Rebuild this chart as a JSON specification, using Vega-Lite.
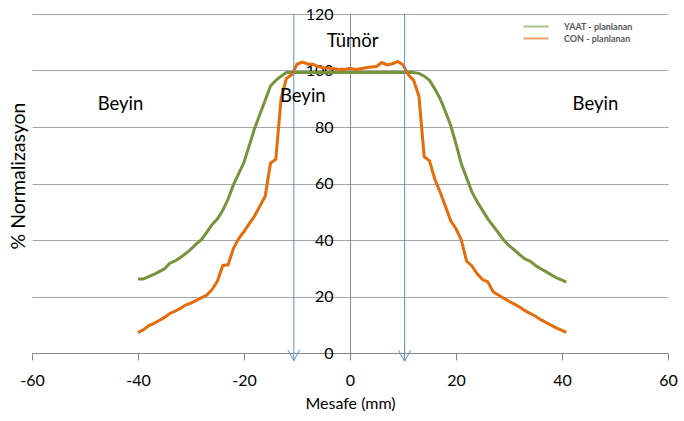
{
  "$schema": "https://vega.github.io/schema/vega-lite/v6.json",
  "width": 636,
  "height": 339,
  "autosize": "none",
  "padding": {"left": 32, "top": 14, "right": 16, "bottom": 68},
  "background": "white",
  "config": {
    "view": {"stroke": null},
    "font": "Lato",
    "axis": {"labelFont": "Lato", "titleFont": "Lato", "labelColor": "#000000", "titleColor": "#000000", "titleFontWeight": "normal"}
  },
  "datasets": {
    "curves": [
      {"x": -40, "y": 26.2, "series": "YAAT - planlanan"},
      {"x": -39, "y": 26.2, "series": "YAAT - planlanan"},
      {"x": -38, "y": 27.0, "series": "YAAT - planlanan"},
      {"x": -37, "y": 27.8, "series": "YAAT - planlanan"},
      {"x": -36, "y": 28.8, "series": "YAAT - planlanan"},
      {"x": -35, "y": 29.8, "series": "YAAT - planlanan"},
      {"x": -34, "y": 31.8, "series": "YAAT - planlanan"},
      {"x": -33, "y": 32.6, "series": "YAAT - planlanan"},
      {"x": -32, "y": 33.8, "series": "YAAT - planlanan"},
      {"x": -31, "y": 35.2, "series": "YAAT - planlanan"},
      {"x": -30, "y": 36.8, "series": "YAAT - planlanan"},
      {"x": -29, "y": 38.6, "series": "YAAT - planlanan"},
      {"x": -28, "y": 40.2, "series": "YAAT - planlanan"},
      {"x": -27, "y": 42.8, "series": "YAAT - planlanan"},
      {"x": -26, "y": 45.5, "series": "YAAT - planlanan"},
      {"x": -25, "y": 47.5, "series": "YAAT - planlanan"},
      {"x": -24, "y": 50.5, "series": "YAAT - planlanan"},
      {"x": -23, "y": 54.5, "series": "YAAT - planlanan"},
      {"x": -22, "y": 59.5, "series": "YAAT - planlanan"},
      {"x": -21, "y": 63.5, "series": "YAAT - planlanan"},
      {"x": -20, "y": 67.5, "series": "YAAT - planlanan"},
      {"x": -19, "y": 73.5, "series": "YAAT - planlanan"},
      {"x": -18, "y": 79.5, "series": "YAAT - planlanan"},
      {"x": -17, "y": 84.5, "series": "YAAT - planlanan"},
      {"x": -16, "y": 89.5, "series": "YAAT - planlanan"},
      {"x": -15, "y": 94.5, "series": "YAAT - planlanan"},
      {"x": -14, "y": 96.5, "series": "YAAT - planlanan"},
      {"x": -13, "y": 98.0, "series": "YAAT - planlanan"},
      {"x": -12, "y": 99.3, "series": "YAAT - planlanan"},
      {"x": -8, "y": 99.3, "series": "YAAT - planlanan"},
      {"x": -4, "y": 99.3, "series": "YAAT - planlanan"},
      {"x": 0, "y": 99.3, "series": "YAAT - planlanan"},
      {"x": 4, "y": 99.3, "series": "YAAT - planlanan"},
      {"x": 8, "y": 99.3, "series": "YAAT - planlanan"},
      {"x": 12, "y": 99.3, "series": "YAAT - planlanan"},
      {"x": 13, "y": 99.0, "series": "YAAT - planlanan"},
      {"x": 14, "y": 98.0, "series": "YAAT - planlanan"},
      {"x": 15, "y": 96.5, "series": "YAAT - planlanan"},
      {"x": 16, "y": 93.5, "series": "YAAT - planlanan"},
      {"x": 17, "y": 90.0, "series": "YAAT - planlanan"},
      {"x": 18, "y": 85.5, "series": "YAAT - planlanan"},
      {"x": 19, "y": 80.5, "series": "YAAT - planlanan"},
      {"x": 20, "y": 74.0, "series": "YAAT - planlanan"},
      {"x": 21, "y": 67.0, "series": "YAAT - planlanan"},
      {"x": 22, "y": 62.0, "series": "YAAT - planlanan"},
      {"x": 23, "y": 57.0, "series": "YAAT - planlanan"},
      {"x": 24, "y": 53.5, "series": "YAAT - planlanan"},
      {"x": 25, "y": 50.5, "series": "YAAT - planlanan"},
      {"x": 26, "y": 47.5, "series": "YAAT - planlanan"},
      {"x": 27, "y": 45.0, "series": "YAAT - planlanan"},
      {"x": 28, "y": 42.5, "series": "YAAT - planlanan"},
      {"x": 29, "y": 40.0, "series": "YAAT - planlanan"},
      {"x": 30, "y": 38.0, "series": "YAAT - planlanan"},
      {"x": 31, "y": 36.5, "series": "YAAT - planlanan"},
      {"x": 32, "y": 34.8, "series": "YAAT - planlanan"},
      {"x": 33, "y": 33.3, "series": "YAAT - planlanan"},
      {"x": 34, "y": 32.5, "series": "YAAT - planlanan"},
      {"x": 35, "y": 31.0, "series": "YAAT - planlanan"},
      {"x": 36, "y": 29.8, "series": "YAAT - planlanan"},
      {"x": 37, "y": 28.8, "series": "YAAT - planlanan"},
      {"x": 38, "y": 27.6, "series": "YAAT - planlanan"},
      {"x": 39, "y": 26.6, "series": "YAAT - planlanan"},
      {"x": 40, "y": 25.8, "series": "YAAT - planlanan"},
      {"x": 40.8, "y": 25.1, "series": "YAAT - planlanan"},
      {"x": -40, "y": 7.2, "series": "CON - planlanan"},
      {"x": -39, "y": 8.2, "series": "CON - planlanan"},
      {"x": -38, "y": 9.6, "series": "CON - planlanan"},
      {"x": -37, "y": 10.5, "series": "CON - planlanan"},
      {"x": -36, "y": 11.5, "series": "CON - planlanan"},
      {"x": -35, "y": 12.6, "series": "CON - planlanan"},
      {"x": -34, "y": 14.0, "series": "CON - planlanan"},
      {"x": -33, "y": 14.8, "series": "CON - planlanan"},
      {"x": -32, "y": 15.8, "series": "CON - planlanan"},
      {"x": -31, "y": 17.0, "series": "CON - planlanan"},
      {"x": -30, "y": 17.7, "series": "CON - planlanan"},
      {"x": -29, "y": 18.6, "series": "CON - planlanan"},
      {"x": -28, "y": 19.6, "series": "CON - planlanan"},
      {"x": -27, "y": 20.5, "series": "CON - planlanan"},
      {"x": -26, "y": 22.5, "series": "CON - planlanan"},
      {"x": -25, "y": 25.5, "series": "CON - planlanan"},
      {"x": -24, "y": 31.0, "series": "CON - planlanan"},
      {"x": -23, "y": 31.2, "series": "CON - planlanan"},
      {"x": -22, "y": 37.0, "series": "CON - planlanan"},
      {"x": -21, "y": 40.5, "series": "CON - planlanan"},
      {"x": -20, "y": 43.0, "series": "CON - planlanan"},
      {"x": -19, "y": 45.8, "series": "CON - planlanan"},
      {"x": -18, "y": 48.5, "series": "CON - planlanan"},
      {"x": -17, "y": 52.0, "series": "CON - planlanan"},
      {"x": -16, "y": 55.5, "series": "CON - planlanan"},
      {"x": -15, "y": 67.2, "series": "CON - planlanan"},
      {"x": -14, "y": 68.6, "series": "CON - planlanan"},
      {"x": -13, "y": 90.0, "series": "CON - planlanan"},
      {"x": -12, "y": 97.2, "series": "CON - planlanan"},
      {"x": -11, "y": 98.5, "series": "CON - planlanan"},
      {"x": -10, "y": 102.2, "series": "CON - planlanan"},
      {"x": -9, "y": 103.0, "series": "CON - planlanan"},
      {"x": -8, "y": 102.3, "series": "CON - planlanan"},
      {"x": -7, "y": 102.2, "series": "CON - planlanan"},
      {"x": -6, "y": 101.4, "series": "CON - planlanan"},
      {"x": -5, "y": 101.0, "series": "CON - planlanan"},
      {"x": -4, "y": 100.8, "series": "CON - planlanan"},
      {"x": -3, "y": 100.6, "series": "CON - planlanan"},
      {"x": -2, "y": 100.4, "series": "CON - planlanan"},
      {"x": -1, "y": 100.4, "series": "CON - planlanan"},
      {"x": 0, "y": 100.8, "series": "CON - planlanan"},
      {"x": 1, "y": 100.4, "series": "CON - planlanan"},
      {"x": 2, "y": 100.6, "series": "CON - planlanan"},
      {"x": 3, "y": 101.0, "series": "CON - planlanan"},
      {"x": 4, "y": 101.2, "series": "CON - planlanan"},
      {"x": 5, "y": 101.4, "series": "CON - planlanan"},
      {"x": 6, "y": 102.8, "series": "CON - planlanan"},
      {"x": 7, "y": 102.0, "series": "CON - planlanan"},
      {"x": 8, "y": 102.4, "series": "CON - planlanan"},
      {"x": 9, "y": 103.2, "series": "CON - planlanan"},
      {"x": 10, "y": 102.0, "series": "CON - planlanan"},
      {"x": 11, "y": 98.5, "series": "CON - planlanan"},
      {"x": 12, "y": 96.5, "series": "CON - planlanan"},
      {"x": 13, "y": 91.0, "series": "CON - planlanan"},
      {"x": 14, "y": 69.5, "series": "CON - planlanan"},
      {"x": 15, "y": 68.0, "series": "CON - planlanan"},
      {"x": 16, "y": 61.5, "series": "CON - planlanan"},
      {"x": 17, "y": 57.0, "series": "CON - planlanan"},
      {"x": 18, "y": 52.0, "series": "CON - planlanan"},
      {"x": 19, "y": 46.8, "series": "CON - planlanan"},
      {"x": 20, "y": 44.0, "series": "CON - planlanan"},
      {"x": 21, "y": 40.0, "series": "CON - planlanan"},
      {"x": 22, "y": 32.5, "series": "CON - planlanan"},
      {"x": 23, "y": 30.8, "series": "CON - planlanan"},
      {"x": 24, "y": 28.0, "series": "CON - planlanan"},
      {"x": 25, "y": 26.0, "series": "CON - planlanan"},
      {"x": 26, "y": 25.2, "series": "CON - planlanan"},
      {"x": 27, "y": 21.7, "series": "CON - planlanan"},
      {"x": 28, "y": 20.5, "series": "CON - planlanan"},
      {"x": 29, "y": 19.4, "series": "CON - planlanan"},
      {"x": 30, "y": 18.3, "series": "CON - planlanan"},
      {"x": 31, "y": 17.3, "series": "CON - planlanan"},
      {"x": 32, "y": 16.3, "series": "CON - planlanan"},
      {"x": 33, "y": 15.0, "series": "CON - planlanan"},
      {"x": 34, "y": 14.0, "series": "CON - planlanan"},
      {"x": 35, "y": 13.0, "series": "CON - planlanan"},
      {"x": 36, "y": 11.8, "series": "CON - planlanan"},
      {"x": 37, "y": 10.8, "series": "CON - planlanan"},
      {"x": 38, "y": 9.8, "series": "CON - planlanan"},
      {"x": 39, "y": 8.8, "series": "CON - planlanan"},
      {"x": 40, "y": 8.0, "series": "CON - planlanan"},
      {"x": 40.8, "y": 7.3, "series": "CON - planlanan"}
    ],
    "arrows": [
      {"x": -10.6, "top": 120, "tip": -2.7},
      {"x": 10.3, "top": 120, "tip": -2.9}
    ],
    "labels": [
      {"x": -43.3, "y": 88, "text": "Beyin"},
      {"x": -8.9, "y": 91, "text": "Beyin"},
      {"x": 46.3, "y": 88.2, "text": "Beyin"},
      {"x": 0.5, "y": 110.3, "text": "Tümör"}
    ]
  },
  "layer": [
    {
      "data": {"name": "curves"},
      "mark": {"type": "line", "strokeWidth": 3},
      "encoding": {
        "x": {
          "field": "x", "type": "quantitative",
          "scale": {"domain": [-60, 60], "nice": false, "zero": false},
          "axis": {
            "values": [-60, -40, -20, 0, 20, 40, 60],
            "labelExpr": "datum.value + ''",
            "grid": false,
            "domainColor": "#868686",
            "tickColor": "#868686",
            "tickSize": 7,
            "labelFontSize": 16,
            "labelPadding": 12,
            "labelFlush": false,
            "title": "Mesafe (mm)",
            "titleFontSize": 16,
            "titlePadding": 7
          }
        },
        "y": {
          "field": "y", "type": "quantitative",
          "scale": {"domain": [0, 120], "nice": false},
          "axis": {
            "values": [0, 20, 40, 60, 80, 100, 120],
            "offset": -318,
            "ticks": false,
            "labelPadding": 17,
            "labelFontSize": 16,
            "grid": true,
            "gridColor": "#a6a6a6",
            "domainColor": "#868686",
            "title": "% Normalizasyon",
            "titleFontSize": 19.5,
            "titleX": -332,
            "titleY": 161.5,
            "titleAngle": 270,
            "titleAlign": "center",
            "titleBaseline": "middle"
          }
        },
        "color": {
          "field": "series", "type": "nominal",
          "scale": {"domain": ["YAAT - planlanan", "CON - planlanan"], "range": ["#77933C", "#E46C0A"]},
          "legend": {
            "orient": "none",
            "legendX": 497.5,
            "legendY": 6,
            "title": null,
            "padding": 0,
            "symbolType": "M-2.3,0H2.3",
            "symbolFillColor": "transparent",
            "symbolStrokeWidth": 2,
            "symbolSize": 121,
            "symbolOpacity": 0.6,
            "labelFont": "Lato",
            "labelFontSize": 9,
            "labelFontWeight": "bold",
            "labelColor": "#595959",
            "labelOffset": 21.5,
            "rowPadding": 0
          }
        },
        "order": {"field": "x", "type": "quantitative"}
      }
    },
    {
      "data": {"name": "arrows"},
      "mark": {"type": "rule", "color": "#5B8FD6", "strokeWidth": 1},
      "encoding": {
        "x": {"field": "x", "type": "quantitative"},
        "y": {"field": "top", "type": "quantitative"},
        "y2": {"field": "tip"}
      }
    },
    {
      "data": {"name": "arrows"},
      "mark": {"type": "point", "shape": "M-1,-1.8L0,0L1,-1.8", "filled": false, "size": 144, "stroke": "#5B8FD6", "strokeWidth": 1, "opacity": 1},
      "encoding": {
        "x": {"field": "x", "type": "quantitative"},
        "y": {"field": "tip", "type": "quantitative"}
      }
    },
    {
      "data": {"name": "labels"},
      "mark": {"type": "text", "fontSize": 18.5, "font": "Lato", "color": "#000000", "align": "center", "baseline": "middle"},
      "encoding": {
        "x": {"field": "x", "type": "quantitative"},
        "y": {"field": "y", "type": "quantitative"},
        "text": {"field": "text"}
      }
    }
  ]
}
